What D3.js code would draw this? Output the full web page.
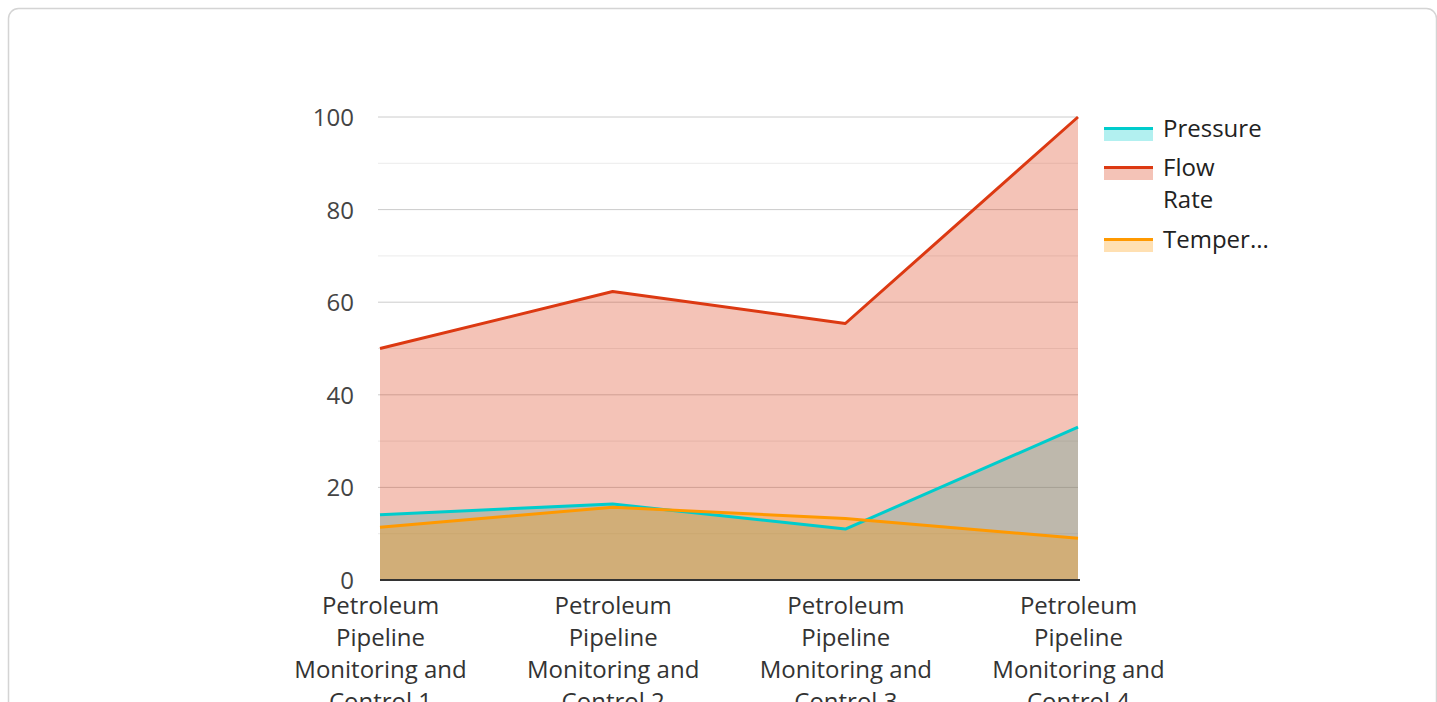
<!DOCTYPE html>
<html>
<head>
<meta charset="utf-8">
<script src="https://cdn.jsdelivr.net/npm/d3@7"></script>
<style>
  html, body { margin: 0; padding: 0; background: #fff; overflow: hidden; }
  svg { display: block; }
  svg text { font-family: "Open Sans", "Noto Sans", sans-serif; }
</style>
</head>
<body>
<svg id="chart" width="1437" height="702"></svg>
<script>
// Pipeline readings per monitoring station
const categories = [
  "Petroleum Pipeline Monitoring and Control 1",
  "Petroleum Pipeline Monitoring and Control 2",
  "Petroleum Pipeline Monitoring and Control 3",
  "Petroleum Pipeline Monitoring and Control 4"
];
const seriesNames = ["Pressure", "Flow Rate", "Temperature"];
const pressure = [14.1, 16.4, 11.0, 33.0];
const flowRate = [50.0, 62.3, 55.4, 100.0];
const temperature = [11.4, 15.7, 13.3, 9.0];
const seriesColors = ["#00cccc", "#dc3912", "#ff9900"];
const yTicks = [0, 20, 40, 60, 80, 100];
const yMinorTicks = [10, 30, 50, 70, 90];

const seriesValues = [pressure, flowRate, temperature];
const FONT = "'Open Sans', 'Noto Sans', sans-serif";
const FONT_SIZE = 24;

const svg = d3.select("#chart");

// card frame
svg.append("rect")
  .attr("x", 8.5).attr("y", 8.5)
  .attr("width", 1428).attr("height", 760)
  .attr("rx", 10).attr("ry", 10)
  .attr("fill", "#fff")
  .attr("stroke", "#d4d4d4")
  .attr("stroke-width", 1.5);

const plot = { left: 380, right: 1078, top: 117, bottom: 580 };

const x = d3.scalePoint()
  .domain(categories)
  .range([plot.left, plot.right])
  .padding(0);

const y = d3.scaleLinear()
  .domain([0, 100])
  .range([plot.bottom, plot.top]);

// gridlines
const grid = svg.append("g");
grid.selectAll("line.minor")
  .data(yMinorTicks)
  .join("line")
  .attr("class", "minor")
  .attr("x1", plot.left - 2).attr("x2", plot.right)
  .attr("y1", d => y(d)).attr("y2", d => y(d))
  .attr("stroke", "#ebebeb").attr("stroke-width", 1);
grid.selectAll("line.major")
  .data(yTicks.filter(d => d !== 0))
  .join("line")
  .attr("class", "major")
  .attr("x1", plot.left - 2).attr("x2", plot.right)
  .attr("y1", d => y(d)).attr("y2", d => y(d))
  .attr("stroke", "#cccccc").attr("stroke-width", 1);

// y axis labels
const yAxis = d3.axisLeft(y).tickValues(yTicks).tickSize(0).tickPadding(26);
const yG = svg.append("g")
  .attr("transform", `translate(${plot.left},0)`)
  .call(yAxis)
  .attr("font-family", FONT)
  .attr("font-size", FONT_SIZE);
yG.select(".domain").remove();
yG.selectAll("text")
  .attr("fill", "#444")
  .attr("dy", "0.35em");

// areas and lines
const area = d3.area()
  .x((d, i) => x(categories[i]))
  .y0(y(0))
  .y1(d => y(d));
const line = d3.line()
  .x((d, i) => x(categories[i]))
  .y(d => y(d));

const layers = svg.append("g");
seriesValues.forEach((vals, s) => {
  layers.append("path")
    .datum(vals)
    .attr("d", area)
    .attr("fill", seriesColors[s])
    .attr("fill-opacity", 0.3);
});
seriesValues.forEach((vals, s) => {
  layers.append("path")
    .datum(vals)
    .attr("d", line)
    .attr("fill", "none")
    .attr("stroke", seriesColors[s])
    .attr("stroke-width", 3)
    .attr("stroke-linejoin", "round");
});

// baseline
svg.append("line")
  .attr("x1", plot.left).attr("x2", plot.right + 2)
  .attr("y1", y(0)).attr("y2", y(0))
  .attr("stroke", "#333").attr("stroke-width", 2);

// x axis labels (wrapped)
const xAxis = d3.axisBottom(x).tickSize(0).tickFormat("");
const xG = svg.append("g")
  .attr("transform", `translate(0,${plot.bottom})`)
  .call(xAxis)
  .attr("font-family", FONT)
  .attr("font-size", FONT_SIZE);
xG.select(".domain").remove();
const wrapLines = ["Petroleum", "Pipeline", "Monitoring and"];
xG.selectAll(".tick").each(function(d) {
  const rest = d.replace("Petroleum Pipeline Monitoring and ", "");
  const lines = wrapLines.concat([rest]);
  const t = d3.select(this).append("text")
    .attr("text-anchor", "middle")
    .attr("fill", "#333");
  lines.forEach((ln, i) => {
    t.append("tspan")
      .attr("x", 0)
      .attr("y", 26 + i * 32)
      .attr("dy", "0.35em")
      .text(ln);
  });
});

// legend
const legendItems = [
  { name: seriesNames[0], lines: ["Pressure"], y: 127 },
  { name: seriesNames[1], lines: ["Flow", "Rate"], y: 166 },
  { name: seriesNames[2], lines: ["Temper..."], y: 238 }
];
const legend = svg.append("g")
  .attr("font-family", FONT)
  .attr("font-size", FONT_SIZE);
legendItems.forEach((item, i) => {
  const g = legend.append("g");
  g.append("rect")
    .attr("x", 1104).attr("y", item.y)
    .attr("width", 49).attr("height", 14)
    .attr("fill", seriesColors[i]).attr("fill-opacity", 0.3);
  g.append("rect")
    .attr("x", 1104).attr("y", item.y)
    .attr("width", 49).attr("height", 3)
    .attr("fill", seriesColors[i]);
  const t = g.append("text")
    .attr("fill", "#222");
  item.lines.forEach((ln, j) => {
    t.append("tspan")
      .attr("x", 1163)
      .attr("y", item.y + 2 + j * 32)
      .attr("dy", "0.35em")
      .text(ln);
  });
});
</script>
</body>
</html>
